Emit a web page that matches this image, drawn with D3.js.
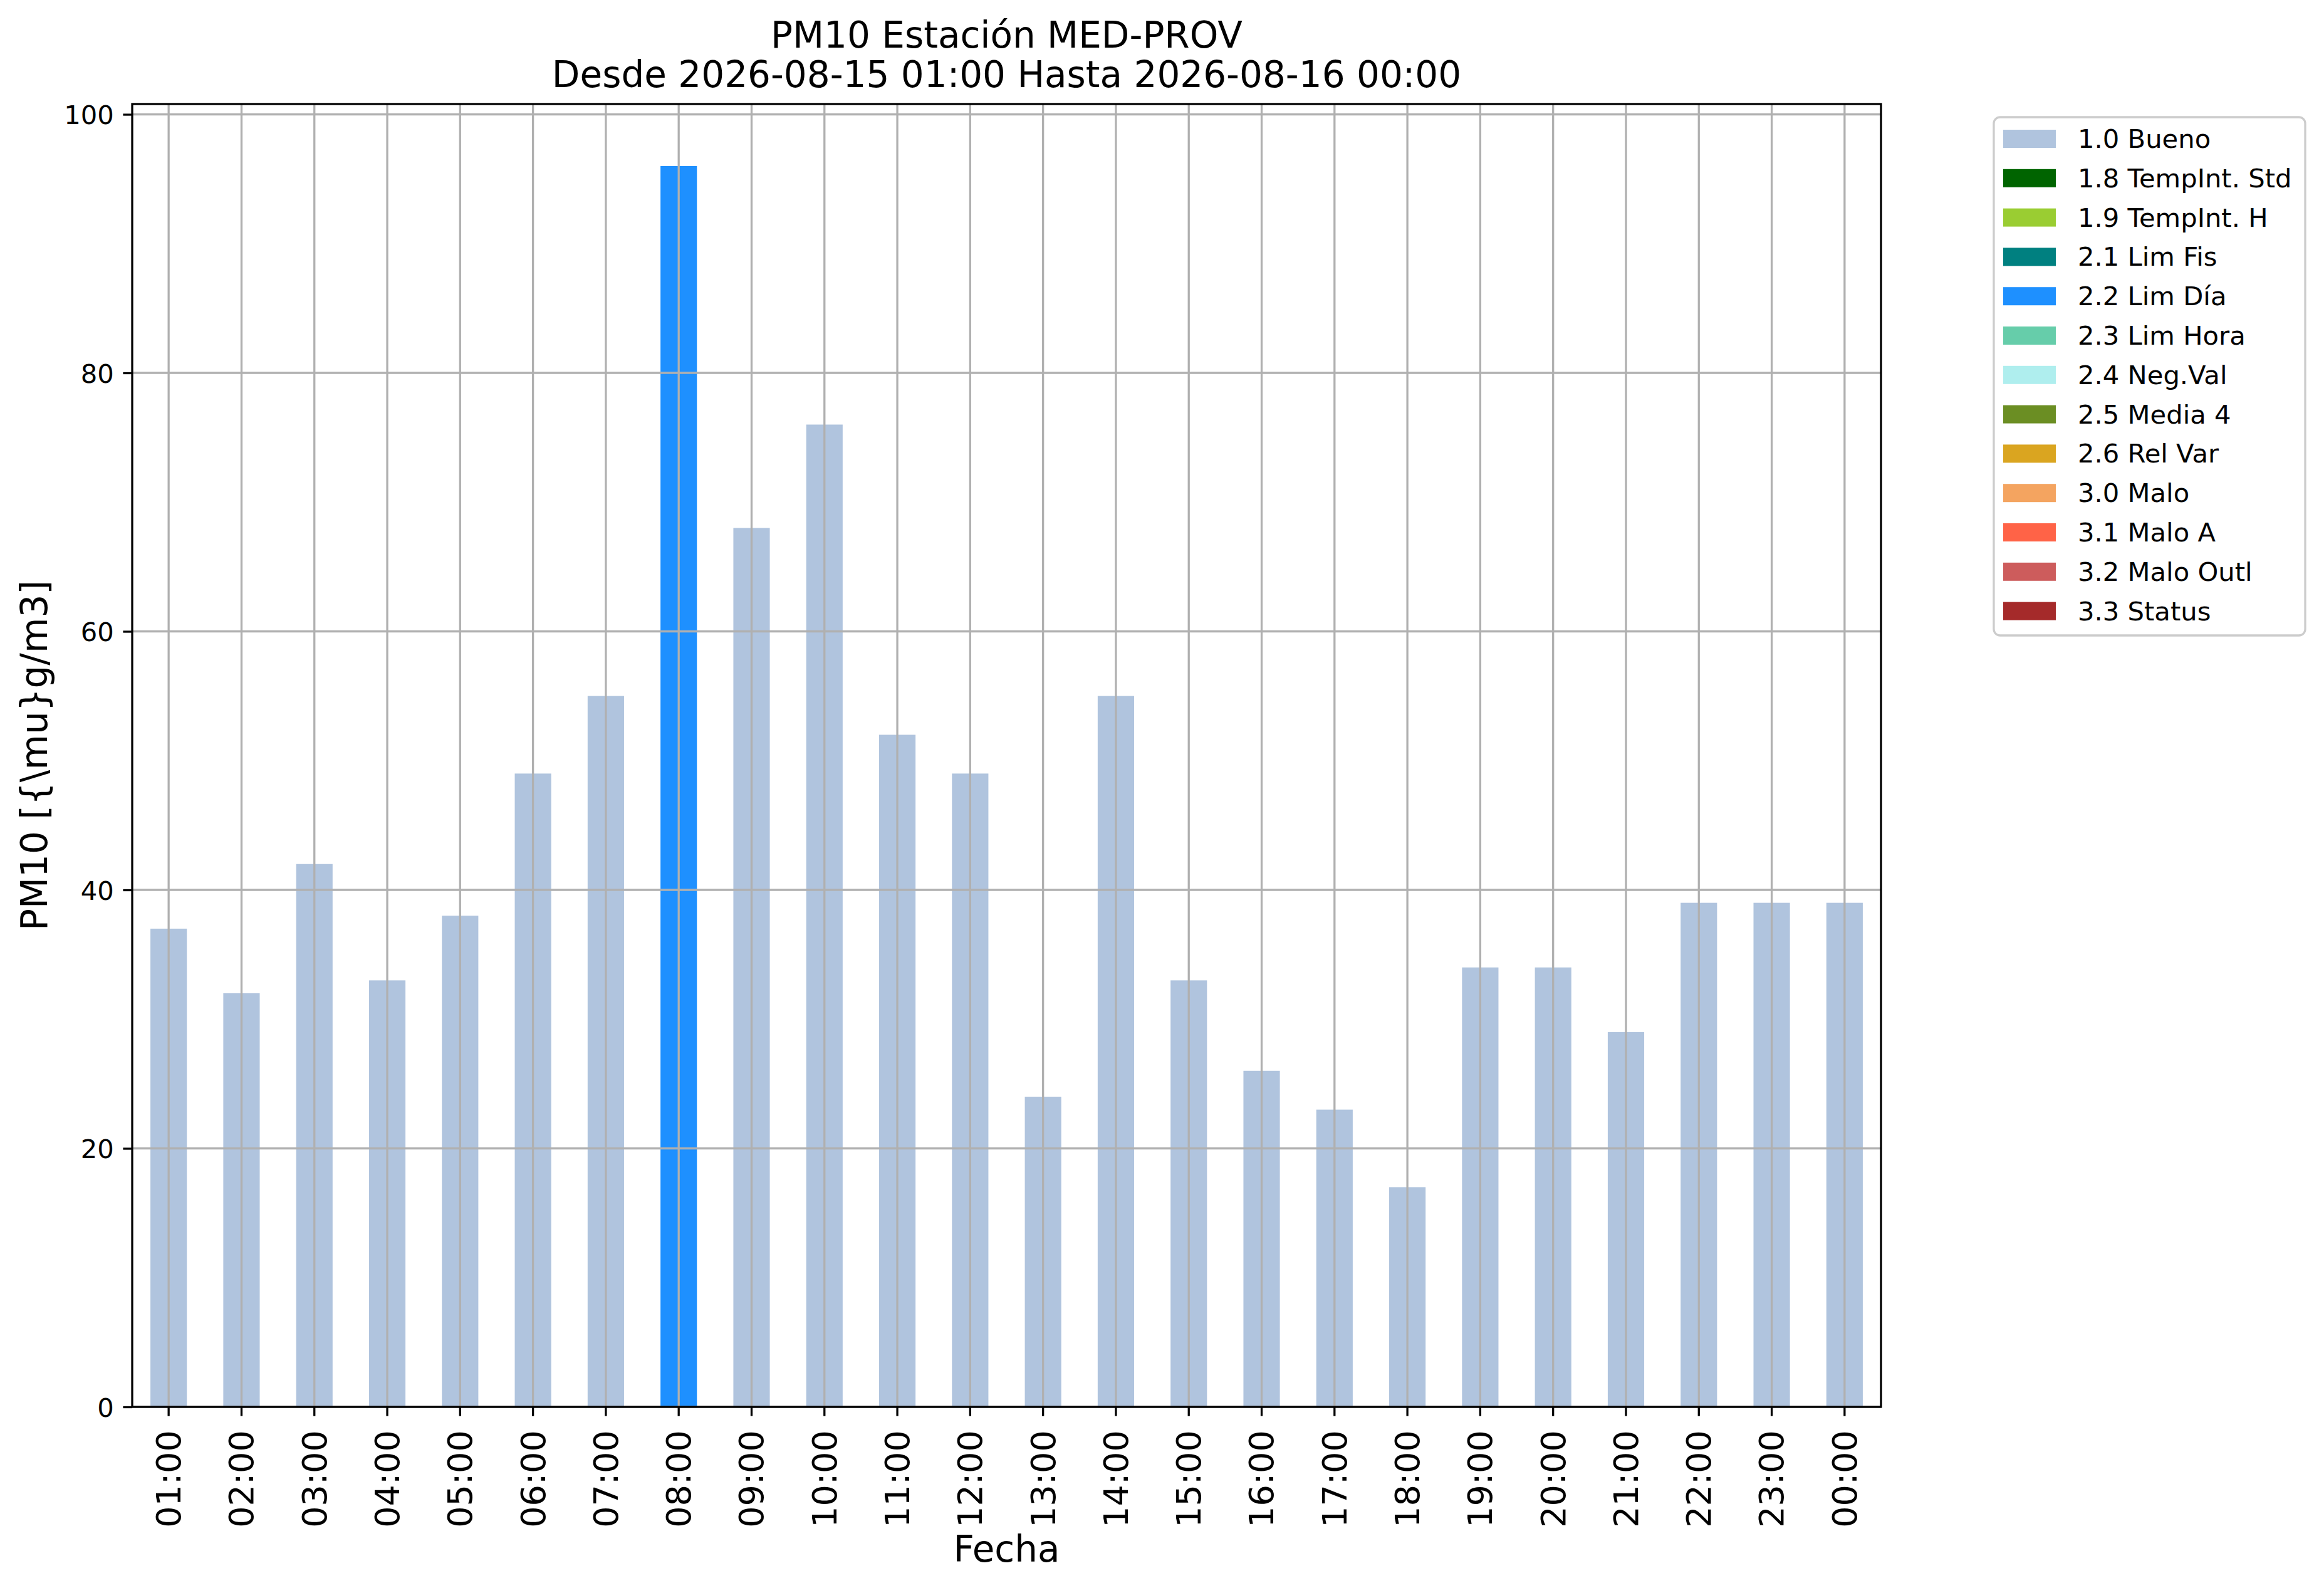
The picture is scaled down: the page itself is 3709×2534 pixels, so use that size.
<!DOCTYPE html>
<html>
<head>
<meta charset="utf-8">
<script src="https://cdn.jsdelivr.net/npm/d3@7"></script>
<style>
  body { margin: 0; background: #fff; }
  text { font-family: "DejaVu Sans", sans-serif; fill: #000; }
</style>
</head>
<body>
<div id="chart"></div>
<script>
// hourly PM10 values and their validation flag
const hours = ['01:00', '02:00', '03:00', '04:00', '05:00', '06:00', '07:00', '08:00',
  '09:00', '10:00', '11:00', '12:00', '13:00', '14:00', '15:00', '16:00',
  '17:00', '18:00', '19:00', '20:00', '21:00', '22:00', '23:00', '00:00']
const pm10 = [37, 32, 42, 33, 38, 49, 55, 96, 68, 76, 52, 49,
  24, 55, 33, 26, 23, 17, 34, 34, 29, 39, 39, 39]
const flags = ['1.0 Bueno', '1.0 Bueno', '1.0 Bueno', '1.0 Bueno', '1.0 Bueno', '1.0 Bueno',
  '1.0 Bueno', '2.2 Lim Día', '1.0 Bueno', '1.0 Bueno', '1.0 Bueno', '1.0 Bueno',
  '1.0 Bueno', '1.0 Bueno', '1.0 Bueno', '1.0 Bueno', '1.0 Bueno', '1.0 Bueno',
  '1.0 Bueno', '1.0 Bueno', '1.0 Bueno', '1.0 Bueno', '1.0 Bueno', '1.0 Bueno']

const categories = ['1.0 Bueno', '1.8 TempInt. Std', '1.9 TempInt. H', '2.1 Lim Fis',
  '2.2 Lim Día', '2.3 Lim Hora', '2.4 Neg.Val', '2.5 Media 4', '2.6 Rel Var',
  '3.0 Malo', '3.1 Malo A', '3.2 Malo Outl', '3.3 Status']
const colors = ['#b0c4de', '#006400', '#9acd32', '#008080', '#1e90ff', '#66cdaa',
  '#afeeee', '#6b8e23', '#daa520', '#f4a460', '#ff6347', '#cd5c5c', '#a52a2a']
const yTicks = [0, 20, 40, 60, 80, 100]

const titleLines = ['PM10 Estación MED-PROV', 'Desde 2026-08-15 01:00 Hasta 2026-08-16 00:00']

// figure / axes geometry (px)
const W = 3709, H = 2534
const margin = { left: 211, right: 3002, top: 166, bottom: 2245 }
const lw = 3.3, tickLen = 14.6, tickPad = 14.6

const svg = d3.select('#chart').append('svg')
  .attr('width', W).attr('height', H)
svg.append('rect').attr('width', W).attr('height', H).attr('fill', '#fff')

// one row per hour, value only in the flag's column -> stacked like pandas
const rows = hours.map((h, i) => {
  const r = { hour: h }
  categories.forEach(c => { r[c] = (flags[i] === c) ? pm10[i] : 0 })
  return r
})
const stacked = d3.stack().keys(categories)(rows)

const x = d3.scaleBand()
  .domain(hours)
  .range([margin.left, margin.right])
  .paddingInner(0.5)
  .paddingOuter(0.25)

const y = d3.scaleLinear()
  .domain([0, d3.max(pm10) * 1.05])
  .range([margin.bottom, margin.top])

const color = d3.scaleOrdinal().domain(categories).range(colors)

// bars
svg.append('g')
  .selectAll('g')
  .data(stacked)
  .join('g')
  .attr('fill', d => color(d.key))
  .selectAll('rect')
  .data(d => d.filter(s => s[1] - s[0] > 0))
  .join('rect')
  .attr('x', d => x(d.data.hour))
  .attr('width', x.bandwidth())
  .attr('y', d => y(d[1]))
  .attr('height', d => y(d[0]) - y(d[1]))

// grid on top of bars
const grid = svg.append('g').attr('stroke', '#b0b0b0').attr('stroke-width', lw)
grid.selectAll('.vg').data(hours).join('line')
  .attr('x1', d => x(d) + x.bandwidth() / 2).attr('x2', d => x(d) + x.bandwidth() / 2)
  .attr('y1', margin.top).attr('y2', margin.bottom)
grid.selectAll('.hg').data(yTicks).join('line')
  .attr('x1', margin.left).attr('x2', margin.right)
  .attr('y1', d => y(d)).attr('y2', d => y(d))

// x axis
const xAxis = svg.append('g')
  .attr('transform', 'translate(0,' + margin.bottom + ')')
  .call(d3.axisBottom(x).tickSize(tickLen).tickPadding(tickPad))
xAxis.select('.domain').remove()
xAxis.selectAll('line').attr('stroke-width', lw)
xAxis.selectAll('text')
  .attr('font-size', 54)
  .attr('font-family', 'DejaVu Sans')
  .attr('text-anchor', 'end')
  .attr('transform', 'rotate(-90)')
  .attr('x', -(tickLen + tickPad + 8))
  .attr('y', 0)
  .attr('dy', '0.35em')

// y axis
const yAxis = svg.append('g')
  .attr('transform', 'translate(' + margin.left + ',0)')
  .call(d3.axisLeft(y).tickValues(yTicks).tickSize(tickLen).tickPadding(tickPad))
yAxis.select('.domain').remove()
yAxis.selectAll('line').attr('stroke-width', lw)
yAxis.selectAll('text')
  .attr('font-size', 41.7)
  .attr('font-family', 'DejaVu Sans')
  .attr('dy', '0.36em')

// spines
svg.append('rect')
  .attr('x', margin.left).attr('y', margin.top)
  .attr('width', margin.right - margin.left).attr('height', margin.bottom - margin.top)
  .attr('fill', 'none').attr('stroke', '#000').attr('stroke-width', lw)

// titles and labels
const cx = (margin.left + margin.right) / 2
svg.selectAll('.title').data(titleLines).join('text')
  .attr('x', cx).attr('y', (d, i) => 76 + i * 63)
  .attr('text-anchor', 'middle').attr('font-size', 58)
  .text(d => d)

svg.append('text')
  .attr('x', cx).attr('y', 2492)
  .attr('text-anchor', 'middle').attr('font-size', 58)
  .text('Fecha')

svg.append('text')
  .attr('transform', 'translate(75,' + (margin.top + margin.bottom) / 2 + ') rotate(-90)')
  .attr('text-anchor', 'middle').attr('font-size', 58)
  .text('PM10 [{\\mu}g/m3]')

// legend
const legend = svg.append('g').attr('transform', 'translate(3182,187)')
legend.append('rect')
  .attr('width', 497).attr('height', 827).attr('rx', 10)
  .attr('fill', '#fff').attr('fill-opacity', 0.8)
  .attr('stroke', '#cccccc').attr('stroke-width', lw)
const item = legend.selectAll('.item').data(categories).join('g')
  .attr('transform', (d, i) => 'translate(0,' + (i * 62.8) + ')')
item.append('rect')
  .attr('x', 15).attr('y', 20).attr('width', 84).attr('height', 29)
  .attr('fill', d => color(d))
item.append('text')
  .attr('x', 134).attr('y', 49).attr('font-size', 41.7)
  .text(d => d)
</script>
</body>
</html>
